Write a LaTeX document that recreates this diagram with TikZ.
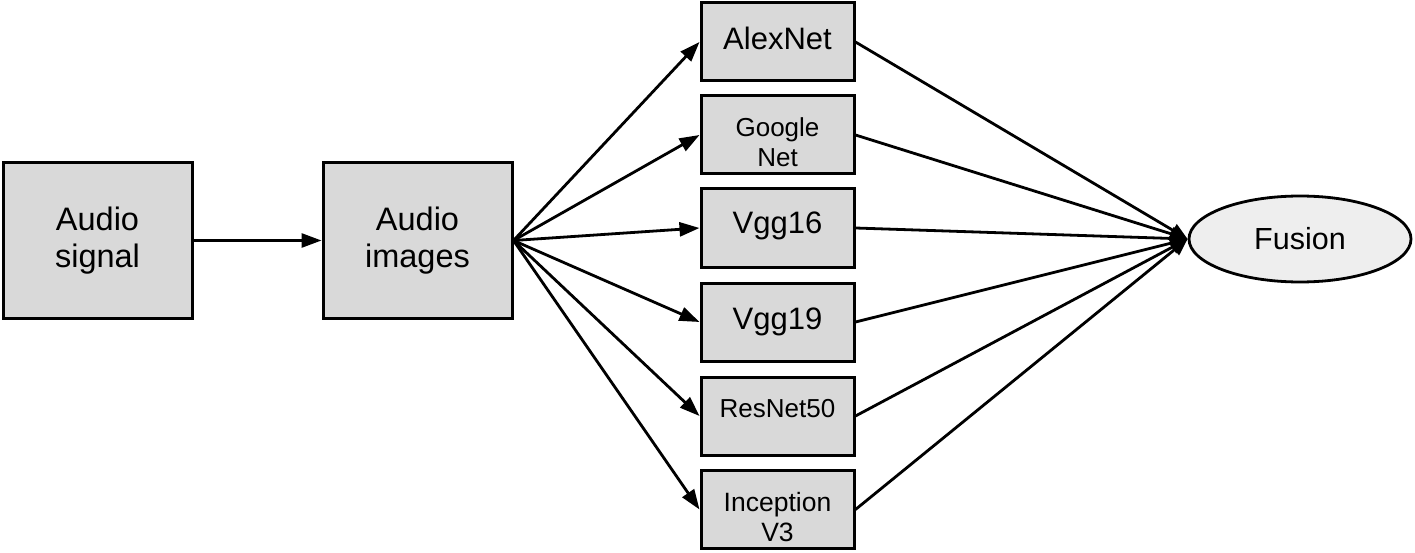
\documentclass[tikz,border=0pt]{standalone}
\usepackage{fontspec}
\setmainfont{Liberation Sans}
\usetikzlibrary{arrows.meta,shapes.geometric}
\definecolor{boxgray}{HTML}{D9D9D9}
\definecolor{ellgray}{HTML}{EEEEEE}
\newcommand{\shiftup}[2]{\raisebox{#1}[\height][\depth]{#2}}
\tikzset{
  bigbox/.style={draw=black, fill=boxgray, line width=3pt, rectangle,
    minimum width=189pt, minimum height=155pt, inner sep=0pt, align=center,
    font=\fontsize{32.5}{37}\selectfont},
  netbox/.style={draw=black, fill=boxgray, line width=3pt, rectangle,
    minimum width=153pt, minimum height=78pt, inner sep=0pt, align=center},
  fusionell/.style={draw=black, fill=ellgray, line width=2.8pt, ellipse,
    minimum width=222pt, minimum height=86pt, inner sep=0pt,
    font=\fontsize{30.5}{34}\selectfont},
  conn/.style={line width=2.8pt, -{Triangle[length=20pt,width=14pt]}},
  conn2/.style={line width=2.8pt, -{Triangle[length=17pt,width=14pt]}}
}
\begin{document}
\begin{tikzpicture}[x=1pt,y=-1pt]
\useasboundingbox (0,0) rectangle (1415,553);
\node[bigbox] (sig) at (97.5,240.5) {Audio\\signal};
\node[bigbox] (img) at (417.5,240.5) {Audio\\images};
\node[netbox, font=\fontsize{31}{32}\selectfont] (alex) at (777.5,42) {\shiftup{4pt}{AlexNet}};
\node[netbox, font=\fontsize{26}{30}\selectfont] (goog) at (777.5,135) {\shiftup{-7pt}{Google}\\\shiftup{-7pt}{Net}};
\node[netbox, font=\fontsize{31}{32}\selectfont] (v16) at (777.5,228) {\shiftup{2pt}{Vgg16}};
\node[netbox, font=\fontsize{31}{32}\selectfont] (v19) at (777.5,322) {\shiftup{0.5pt}{Vgg19}};
\node[netbox, font=\fontsize{26}{30}\selectfont] (res) at (777.5,416) {\shiftup{7pt}{ResNet50}};
\node[netbox, font=\fontsize{26.5}{30}\selectfont] (inc) at (777.5,509.5) {\shiftup{-8pt}{Inception}\\\shiftup{-8pt}{V3}};
\node[fusionell] (fus) at (1300,239) {Fusion};
\draw[conn] (sig.east) -- (img.west);
\foreach \n in {alex,goog,v16,v19,res,inc}{
  \draw[conn] (img.east) -- (\n.west);
  \draw[conn2] (\n.east) -- (fus.west);
}
\end{tikzpicture}
\end{document}
